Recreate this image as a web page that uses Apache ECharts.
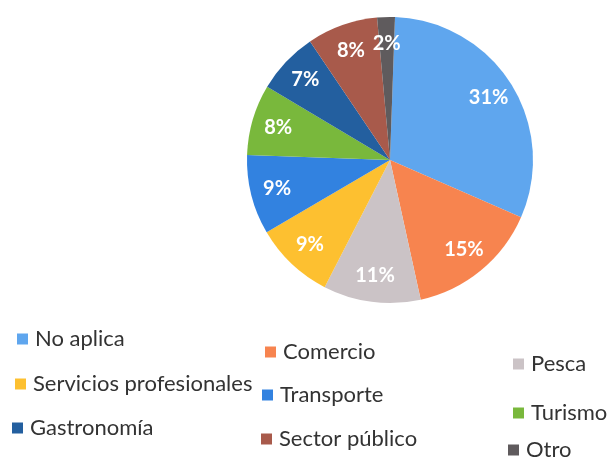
<!DOCTYPE html>
<html>
<head>
<meta charset="utf-8">
<script src="https://cdn.jsdelivr.net/npm/echarts@6/dist/echarts.min.js"></script>
<style>
html,body{margin:0;padding:0;background:#fff;}
#chart{width:611px;height:461px;}
</style>
</head>
<body>
<div id="chart"></div>
<script>
// Data
const categories = ['No aplica','Comercio','Pesca','Servicios profesionales','Transporte','Turismo','Gastronomía','Sector público','Otro'];
const percentages = [31,15,11,9,9,8,7,8,2];

// Styles
const colors = ['#5fa6ee','#f7844f','#cbc3c6','#fdc030','#3282e0','#79b83c','#235f9f','#a85a4b','#5f5b5d'];
// legend layout: [left, centerY] per category (scanned page is slightly skewed)
const legendPos = [[17,339],[265,352],[513,364],[15,384],[262,395],[513,413],[12,428],[261,439],[508,450]];

const chart = echarts.init(document.getElementById('chart'));
const FONT = 'Lato';
const pieData = categories.map((c,i)=>({name:c,value:percentages[i],itemStyle:{color:colors[i]}}));

const legends = categories.map((c,i)=>({
  data:[c],
  left:legendPos[i][0],
  top:legendPos[i][1]-12,
  padding:0,
  itemWidth:11,
  itemHeight:11,
  itemGap:5,
  icon:'rect',
  selectedMode:false,
  textStyle:{fontFamily:FONT,fontSize:22,color:'#333333',lineHeight:24,padding:[0,0,0,2]}
}));

chart.setOption({
  animation:false,
  backgroundColor:'#fff',
  legend:legends,
  series:[
    {
      type:'pie',
      center:[390,160],
      radius:[0,143],
      startAngle:88,
      clockwise:true,
      label:{show:false},
      labelLine:{show:false},
      itemStyle:{borderWidth:0},
      emphasis:{disabled:true},
      data:pieData
    },
    {
      type:'pie',
      center:[390,160],
      radius:[84,143],
      startAngle:88,
      clockwise:true,
      silent:true,
      itemStyle:{color:'rgba(0,0,0,0)',borderWidth:0},
      label:{show:true,position:'inside',formatter:'{c}%',color:'#fff',fontFamily:FONT,fontWeight:'bold',fontSize:20},
      labelLine:{show:false},
      emphasis:{disabled:true},
      data:categories.map((c,i)=>({name:c,value:percentages[i]}))
    }
  ]
});
</script>
</body>
</html>
